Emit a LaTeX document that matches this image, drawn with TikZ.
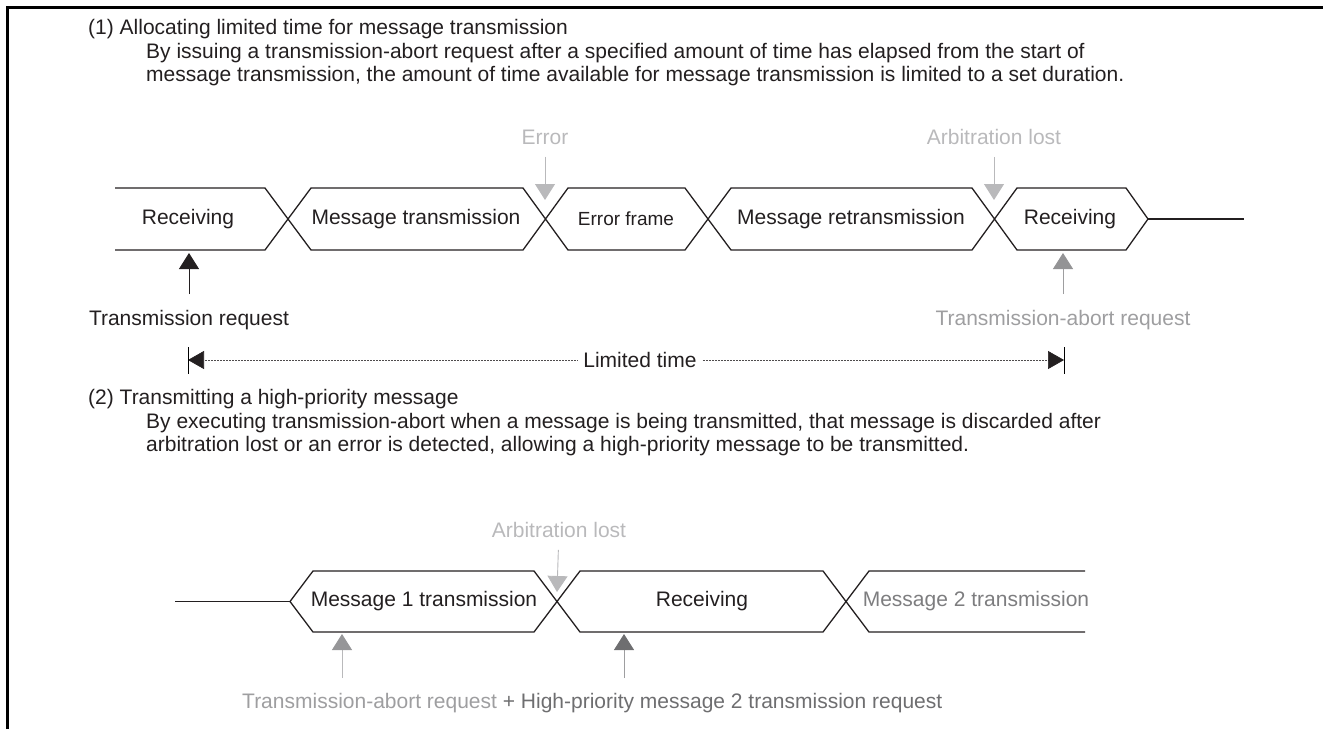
\documentclass[tikz,border=0pt]{standalone}
\usepackage{fontspec}
\setmainfont{Liberation Sans}
\usetikzlibrary{arrows.meta}

\definecolor{ink}{HTML}{231F20}
\definecolor{faintgray}{HTML}{B9B9BB}
\definecolor{abortgray}{HTML}{9E9EA0}
\definecolor{headgray}{HTML}{939395}
\definecolor{hpgray}{HTML}{6E6E70}
\definecolor{msggray}{HTML}{7D7D7F}

\begin{document}
\begin{tikzpicture}[x=1pt, y=-1pt,
  every node/.style={font=\fontsize{21}{25}\selectfont, text=ink, inner sep=0pt},
  desc/.style={anchor=west},
  bus/.style={line width=1.3pt, draw=ink, line join=miter},
  faint/.style={text=faintgray},
  downarrow/.style={-{Triangle[width=20pt, length=16pt]}, line width=0.9pt, draw=faintgray},
  uparrow/.style={-{Triangle[width=20pt, length=16pt]}, line width=0.9pt},
  timespan/.style={-{Triangle[width=18pt, length=16pt, color=ink]}, line width=0.7pt,
    draw=ink!80, dash pattern=on 0.6pt off 0.9pt, shorten <=6pt}
]
  \useasboundingbox (0,0) rectangle (1323,729);

  % Frame (open at right and bottom)
  \draw[line width=3pt] (7.5,729) -- (7.5,7.5) -- (1323,7.5);

  % (1) Heading and description
  \node[desc] (head1) at (88,29) {(1) Allocating limited time for message transmission};
  \node[desc] (text1a) at (146,53) {By issuing a transmission-abort request after a specified amount of time has elapsed from the start of};
  \node[desc] (text1b) at (146,76) {message transmission, the amount of time available for message transmission is limited to a set duration.};

  % Bus states, first sequence
  \draw[bus] (115,188) -- (265,188) -- (311,250) -- (523,250) -- (568,188) -- (685,188)
    -- (731,250) -- (972,250) -- (1017,188) -- (1126,188) -- (1148,219) -- (1126,250)
    -- (1017,250) -- (972,188) -- (731,188) -- (685,250) -- (568,250) -- (523,188)
    -- (311,188) -- (265,250) -- (115,250);
  \draw[bus] (1148,219) -- (1244,219);

  \node (rx1) at (188,219) {Receiving};
  \node (tx1) at (416,219) {Message transmission};
  \node[font=\fontsize{19}{23}\selectfont] (errframe) at (626,219) {Error frame};
  \node (retx) at (851,219) {Message retransmission};
  \node (rx2) at (1070,219) {Receiving};

  % Events from above
  \node[faint] (errlbl) at (545,137) {Error};
  \coordinate (errtip) at (545,200);
  \draw[downarrow, shorten <=12pt] (errlbl) -- (errtip);

  \node[faint] (arb1lbl) at (994,137) {Arbitration lost};
  \coordinate (arb1tip) at (994,200);
  \draw[downarrow, shorten <=12pt] (arb1lbl) -- (arb1tip);

  % Requests from below
  \node (treqlbl) at (189,320) {Transmission request};
  \coordinate (treqtip) at (189,253);
  \draw[uparrow, draw=ink, shorten <=16pt] (treqlbl) -- (treqtip);

  \node[text=abortgray] (abort1lbl) at (1063,320) {Transmission-abort request};
  \coordinate (abort1tip) at (1063,253);
  \draw[-{Triangle[width=20pt, length=16pt, color=headgray]}, line width=0.9pt,
    draw=abortgray, shorten <=16pt] (abort1lbl) -- (abort1tip);

  % Limited time span
  \node (limit) at (640,360) {Limited time};
  \coordinate (limL) at (188,360);
  \coordinate (limR) at (1064,360);
  \draw[timespan] (limit.west) -- (limL);
  \draw[timespan] (limit.east) -- (limR);
  \draw[line width=0.9pt] (limL) ++(0,-13) -- ++(0,27);
  \draw[line width=0.9pt] (limR) ++(0,-13) -- ++(0,27);

  % (2) Heading and description
  \node[desc] (head2) at (88,399) {(2) Transmitting a high-priority message};
  \node[desc] (text2a) at (146,423) {By executing transmission-abort when a message is being transmitted, that message is discarded after};
  \node[desc] (text2b) at (146,446) {arbitration lost or an error is detected, allowing a high-priority message to be transmitted.};

  % Bus states, second sequence
  \draw[bus] (175,601.5) -- (290,601.5);
  \draw[bus] (1085,571) -- (869,571) -- (823,632) -- (580,632) -- (534,571) -- (313,571)
    -- (290,601.5) -- (313,632) -- (534,632) -- (580,571) -- (823,571) -- (869,632)
    -- (1085,632);

  \node (tx2) at (424,601.5) {Message 1 transmission};
  \node (rx3) at (702,601.5) {Receiving};
  \node[text=msggray] (tx3) at (976,601.5) {Message 2 transmission};

  \node[faint] (arb2lbl) at (559,530) {Arbitration lost};
  \coordinate (arb2tip) at (557,592);
  \draw[downarrow, shorten <=12pt] (arb2lbl) -- (arb2tip);

  % Abort and high-priority request
  \coordinate (abort2base) at (342,678);
  \coordinate (abort2tip) at (342,634);
  \draw[-{Triangle[width=20pt, length=16pt, color=abortgray!95!black]}, line width=0.9pt,
    draw=faintgray] (abort2base) -- (abort2tip);
  \coordinate (hpbase) at (624,678);
  \coordinate (hptip) at (624,634);
  \draw[-{Triangle[width=20pt, length=16pt, color=hpgray]}, line width=0.9pt,
    draw=abortgray] (hpbase) -- (hptip);
  \node[anchor=west] (reqlbl) at (242,703)
    {\textcolor{abortgray}{Transmission-abort request} \textcolor{hpgray}{+ High-priority message 2 transmission request}};
\end{tikzpicture}
\end{document}
